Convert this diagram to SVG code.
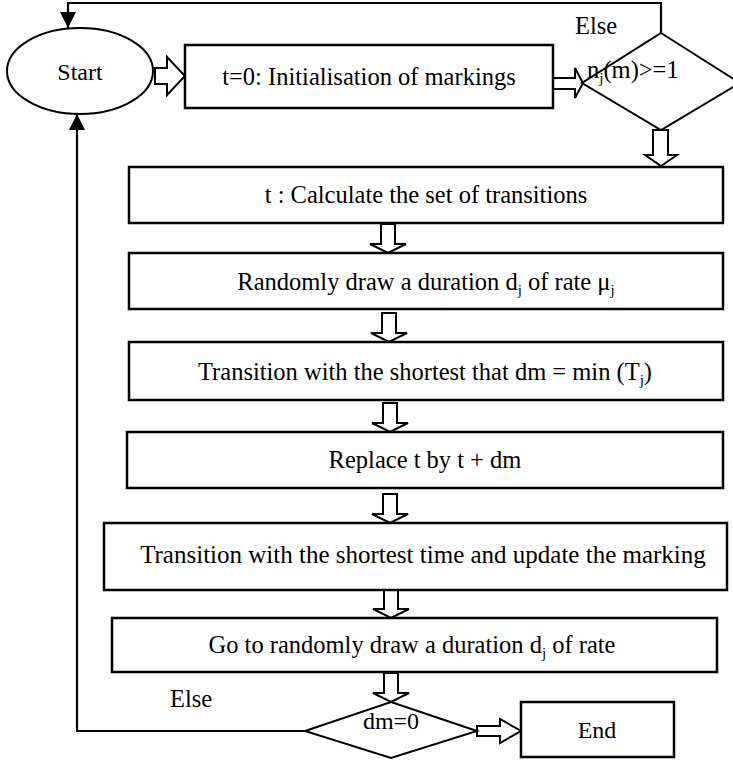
<svg xmlns="http://www.w3.org/2000/svg" width="733" height="763" viewBox="0 0 733 763">
  <defs>
    <style>
      .box { fill: #fff; stroke: #000; stroke-width: 2.5; }
      .dec { fill: #fff; stroke: #000; stroke-width: 2; }
      .flow { fill: #fff; stroke: #000; stroke-width: 2; stroke-linejoin: miter; }
      .line { fill: none; stroke: #000; stroke-width: 2.2; }
      text { font-family: "Liberation Serif", "Times New Roman", serif; font-size: 24.5px; fill: #000; }
      .c { text-anchor: middle; }
      .sub { font-size: 15px; }
    </style>
    <marker id="tri" viewBox="0 0 10 10" refX="10" refY="5" markerWidth="16" markerHeight="16" markerUnits="userSpaceOnUse" orient="auto">
      <path d="M0,0 L10,5 L0,10 z" fill="#000"/>
    </marker>
    <!-- hollow block arrow pointing down, tip at (0,0) -->
    <path id="downArrow" d="M-7,-29 L7,-29 L7,-9 L18,-9 L0,0 L-18,-9 L-7,-9 Z"/>
  </defs>

  <!-- connectors -->
  <g id="connectors">
    <!-- loop back from first decision to Start -->
    <polyline class="line" points="661,33 661,3 68,3 68,28" marker-end="url(#tri)"/>
    <!-- loop back from dm=0 to Start -->
    <polyline class="line" points="305,731 77,731 77,114" marker-end="url(#tri)"/>

    <!-- Start -> initialisation -->
    <path class="flow" d="M155,68 L167,68 L167,57 L185,76 L167,95 L167,84 L155,84 Z"/>
    <!-- initialisation -> decision -->
    <path class="flow" d="M553,78 L575,78 L575,68 L583,83 L575,98 L575,89 L553,89 Z"/>
    <!-- decision -> calculate -->
    <path class="flow" d="M653,130 L668,130 L668,155 L677,155 L661,166 L645,155 L653,155 Z"/>

    <!-- vertical block arrows between steps -->
    <use href="#downArrow" class="flow" x="388" y="253"/>
    <use href="#downArrow" class="flow" x="389" y="342"/>
    <use href="#downArrow" class="flow" x="390" y="432"/>
    <use href="#downArrow" class="flow" x="390" y="523"/>
    <use href="#downArrow" class="flow" x="391" y="618"/>
    <use href="#downArrow" class="flow" x="391" y="702"/>

    <!-- dm=0 -> End -->
    <path class="flow" d="M477,726 L500,726 L500,719 L521,731 L500,743 L500,736 L477,736 Z"/>

    <text x="575" y="34">Else</text>
    <text x="170" y="707">Else</text>
  </g>

  <g id="start">
    <ellipse class="dec" cx="80" cy="71" rx="73" ry="43"/>
    <text class="c" x="80" y="80" style="font-size:24px">Start</text>
  </g>

  <g id="init">
    <rect class="box" x="185" y="45" width="368" height="63"/>
    <text class="c" x="369" y="85">t=0: Initialisation of markings</text>
  </g>

  <g id="decision-marking">
    <polygon class="dec" points="661,33 740,83 661,130 582,83"/>
    <text x="587" y="78">n<tspan class="sub" dy="5">j</tspan><tspan dy="-5">(m)&gt;=1</tspan></text>
  </g>

  <g id="calculate">
    <rect class="box" x="129" y="167" width="594" height="56"/>
    <text class="c" x="426" y="203">t : Calculate the set of transitions</text>
  </g>

  <g id="draw">
    <rect class="box" x="129" y="253" width="594" height="56"/>
    <text class="c" x="426" y="290">Randomly draw a duration d<tspan class="sub" dy="5">j</tspan><tspan dy="-5"> of rate μ</tspan><tspan class="sub" dy="5">j</tspan></text>
  </g>

  <g id="shortest">
    <rect class="box" x="129" y="342" width="594" height="58"/>
    <text class="c" x="425" y="380">Transition with the shortest that dm = min (T<tspan class="sub" dy="5">j</tspan><tspan dy="-5">)</tspan></text>
  </g>

  <g id="replace">
    <rect class="box" x="127" y="432" width="596" height="56"/>
    <text class="c" x="425" y="468">Replace t by t + dm</text>
  </g>

  <g id="update">
    <rect class="box" x="104" y="523" width="623" height="67"/>
    <text class="c" x="423" y="563" style="font-size:25px">Transition with the shortest time and update the marking</text>
  </g>

  <g id="goto">
    <rect class="box" x="112" y="618" width="605" height="54"/>
    <text class="c" x="412" y="653">Go to randomly draw a duration d<tspan class="sub" dy="5">j</tspan><tspan dy="-5"> of rate</tspan></text>
  </g>

  <g id="decision-dm">
    <polygon class="dec" points="391,702 477,731 391,758 305,731"/>
    <text class="c" x="391" y="729" style="font-size:24px">dm=0</text>
  </g>

  <g id="end">
    <rect class="box" x="521" y="702" width="153" height="55"/>
    <text class="c" x="597" y="738" style="font-size:24px">End</text>
  </g>
</svg>
